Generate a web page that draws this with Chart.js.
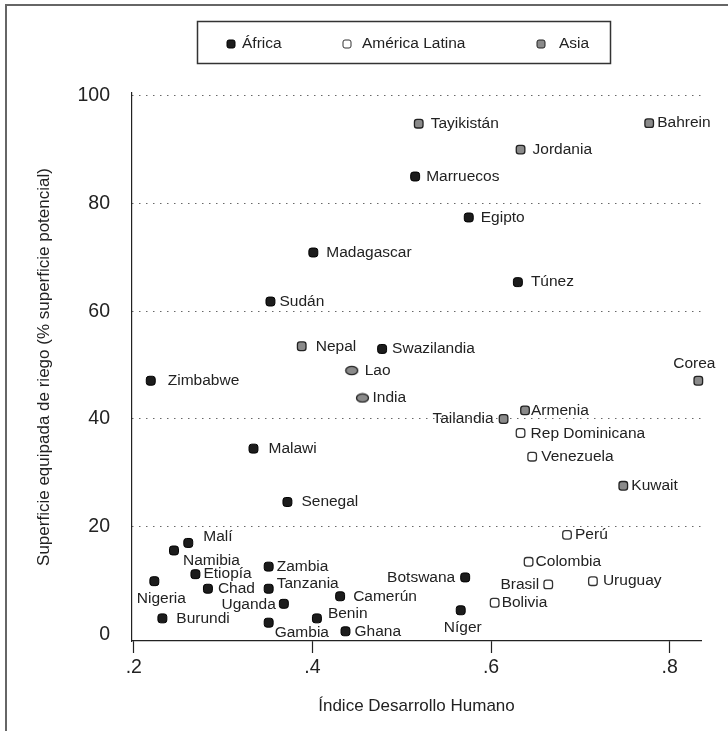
<!DOCTYPE html>
<html>
<head>
<meta charset="utf-8">
<script src="https://cdn.jsdelivr.net/npm/chart.js@4.4.1/dist/chart.umd.min.js"></script>
<style>
  html, body { margin: 0; padding: 0; background: #fff; }
</style>
</head>
<body>
<canvas id="chart" width="728" height="731"></canvas>
<script>
// África
const africaNames = ["Marruecos", "Egipto", "Madagascar", "Túnez", "Sudán", "Swazilandia", "Zimbabwe",
  "Malawi", "Senegal", "Malí", "Namibia", "Etiopía", "Nigeria", "Chad", "Zambia", "Tanzania",
  "Uganda", "Burundi", "Gambia", "Benin", "Ghana", "Camerún", "Botswana", "Níger"];
const africaIdh = [0.515, 0.575, 0.401, 0.630, 0.353, 0.478, 0.219,
  0.334, 0.372, 0.261, 0.245, 0.269, 0.223, 0.283, 0.351, 0.351,
  0.368, 0.232, 0.351, 0.405, 0.437, 0.431, 0.571, 0.566];
const africaRiego = [85.0, 77.4, 70.9, 65.4, 61.8, 53.0, 47.1,
  34.5, 24.6, 17.0, 15.6, 11.2, 9.9, 8.5, 12.6, 8.5,
  5.7, 3.0, 2.2, 3.0, 0.6, 7.1, 10.6, 4.5];

// América Latina
const latamNames = ["Rep Dominicana", "Venezuela", "Perú", "Colombia", "Brasil", "Uruguay", "Bolivia"];
const latamIdh = [0.633, 0.646, 0.685, 0.642, 0.664, 0.714, 0.604];
const latamRiego = [37.4, 33.0, 18.5, 13.5, 9.3, 9.9, 5.9];

// Asia
const asiaNames = ["Tayikistán", "Bahrein", "Jordania", "Nepal", "Lao", "India", "Corea",
  "Armenia", "Tailandia", "Kuwait"];
const asiaIdh = [0.519, 0.777, 0.633, 0.388, 0.444, 0.456, 0.832, 0.638, 0.614, 0.748];
const asiaRiego = [94.8, 94.9, 90.0, 53.5, 49.0, 43.9, 47.1, 41.6, 40.0, 27.6];

const xTicks = [0.2, 0.4, 0.6, 0.8];
const yTicks = [0, 20, 40, 60, 80, 100];

const FONT = '"Liberation Sans", Arial, sans-serif';

// donde va cada etiqueta respecto a su punto: [dx, dy, align]
const labelAt = {
  "Tayikistán": [12, 0], "Bahrein": [8, 0], "Jordania": [12, 0], "Marruecos": [11, 0],
  "Egipto": [12, 0], "Madagascar": [13, 0], "Túnez": [13, 0], "Sudán": [9, 0],
  "Nepal": [14, 0], "Swazilandia": [10, 0], "Lao": [13, 0], "India": [10, 0],
  "Zimbabwe": [17, 0], "Malawi": [15, 0], "Senegal": [14, 0],
  "Corea": [-4, -17, "center"], "Armenia": [6, 0], "Tailandia": [-10, 0, "right"],
  "Rep Dominicana": [10, 1], "Venezuela": [9, 0], "Kuwait": [8, 0],
  "Malí": [15, -6], "Namibia": [9, 10], "Etiopía": [8, 0], "Nigeria": [7, 18, "center"],
  "Chad": [10, 0], "Zambia": [8, 0], "Tanzania": [8, -5], "Uganda": [-8, 1, "right"],
  "Burundi": [14, 0], "Gambia": [6, 10], "Benin": [11, -5], "Ghana": [9, 0],
  "Camerún": [13, 0], "Botswana": [-10, 0, "right"], "Níger": [2, 17, "center"],
  "Perú": [8, 0], "Colombia": [7, 0], "Brasil": [-9, 0, "right"], "Uruguay": [10, 0],
  "Bolivia": [7, 0]
};

const toPoints = (xs, ys) => xs.map((x, i) => ({ x: x, y: ys[i] }));

// marcador ovalado (Lao, India)
const oval = document.createElement("canvas");
oval.width = 15; oval.height = 11;
(function () {
  const c = oval.getContext("2d");
  c.beginPath();
  c.ellipse(7.5, 5.5, 6, 4.2, 0, 0, Math.PI * 2);
  c.fillStyle = "#8a8a8a";
  c.fill();
  c.lineWidth = 1.3;
  c.strokeStyle = "#222";
  c.stroke();
})();

const countryLabels = {
  id: "countryLabels",
  afterDatasetsDraw(chart) {
    const ctx = chart.ctx;
    ctx.save();
    ctx.font = "15.5px " + FONT;
    ctx.fillStyle = "#222";
    ctx.textBaseline = "middle";
    chart.data.datasets.forEach((ds, di) => {
      const meta = chart.getDatasetMeta(di);
      meta.data.forEach((pt, i) => {
        const name = ds.names[i];
        const pos = labelAt[name] || [11, 0];
        ctx.textAlign = pos[2] || "left";
        ctx.fillText(name, pt.x + pos[0], pt.y + pos[1]);
      });
    });
    ctx.restore();
  }
};

const legendBox = {
  id: "legendBox",
  afterDraw(chart) {
    const ctx = chart.ctx;
    ctx.save();
    // marco exterior
    ctx.strokeStyle = "#666";
    ctx.lineWidth = 2;
    ctx.beginPath();
    ctx.moveTo(6, 731);
    ctx.lineTo(6, 5);
    ctx.lineTo(728, 5);
    ctx.stroke();

    ctx.strokeStyle = "#333";
    ctx.lineWidth = 1.5;
    ctx.strokeRect(197.5, 21.5, 413, 42);

    const items = [
      { mx: 231, tx: 242 },
      { mx: 347, tx: 362 },
      { mx: 541, tx: 559 }
    ];
    ctx.font = "15.5px " + FONT;
    ctx.textBaseline = "middle";
    ctx.textAlign = "left";
    chart.data.datasets.forEach((ds, i) => {
      const it = items[i];
      ctx.beginPath();
      ctx.roundRect(it.mx - 4, 40, 8, 8, 2);
      ctx.fillStyle = ds.pointBackgroundColor;
      ctx.fill();
      ctx.lineWidth = 1;
      ctx.strokeStyle = ds.pointBorderColor;
      ctx.stroke();
      ctx.fillStyle = "#222";
      ctx.fillText(ds.label, it.tx, 44);
    });
    ctx.restore();
  }
};

new Chart(document.getElementById("chart"), {
  type: "scatter",
  data: {
    datasets: [
      {
        label: "África",
        names: africaNames,
        data: toPoints(africaIdh, africaRiego),
        clip: false,
        pointStyle: "rectRounded",
        pointRadius: 5.2,
        pointBackgroundColor: "#1c1c1c",
        pointBorderColor: "#000",
        pointBorderWidth: 1
      },
      {
        label: "América Latina",
        names: latamNames,
        data: toPoints(latamIdh, latamRiego),
        clip: false,
        pointStyle: "rectRounded",
        pointRadius: 5,
        pointBackgroundColor: "#fff",
        pointBorderColor: "#333",
        pointBorderWidth: 1.3
      },
      {
        label: "Asia",
        names: asiaNames,
        data: toPoints(asiaIdh, asiaRiego),
        clip: false,
        pointStyle: (c) => (asiaNames[c.dataIndex] === "Lao" || asiaNames[c.dataIndex] === "India") ? oval : "rectRounded",
        pointRadius: 5,
        pointBackgroundColor: "#8a8a8a",
        pointBorderColor: "#222",
        pointBorderWidth: 1.3
      }
    ]
  },
  options: {
    responsive: false,
    animation: false,
    layout: { padding: { left: 0, top: 93, right: 27, bottom: 0 } },
    plugins: {
      legend: { display: false },
      tooltip: { enabled: false }
    },
    scales: {
      x: {
        type: "linear",
        min: 0.198,
        max: 0.835,
        afterBuildTicks: (s) => { s.ticks = xTicks.map(v => ({ value: v })); },
        afterFit: (s) => { s.height = 90; },
        ticks: {
          callback: (v) => String(v).replace(/^0/, ""),
          font: { family: FONT, size: 19.5 },
          color: "#222",
          padding: 3,
          maxRotation: 0
        },
        grid: {
          drawOnChartArea: false,
          drawTicks: true,
          tickLength: 12,
          tickColor: "#222",
          tickWidth: 1.2
        },
        border: { color: "#222", width: 1.2 },
        title: {
          display: true,
          text: "Índice Desarrollo Humano",
          font: { family: FONT, size: 17 },
          color: "#222",
          padding: { top: 0, bottom: 14 }
        }
      },
      y: {
        min: -1.2,
        max: 100.5,
        afterBuildTicks: (s) => { s.ticks = yTicks.map(v => ({ value: v })); },
        afterFit: (s) => { s.width = 132; },
        ticks: {
          font: { family: FONT, size: 19.5 },
          color: "#222",
          padding: 22
        },
        grid: {
          drawTicks: false,
          color: (c) => (c.tick && c.tick.value > 0) ? "#444" : "rgba(0,0,0,0)",
          lineWidth: 1
        },
        border: { color: "#222", width: 1.2, dash: [1.2, 5.8] },
        title: {
          display: true,
          text: "Superficie equipada de riego (% superficie potencial)",
          font: { family: FONT, size: 17 },
          color: "#222",
          padding: { top: 34, bottom: 0 }
        }
      }
    }
  },
  plugins: [countryLabels, legendBox]
});
</script>
</body>
</html>
